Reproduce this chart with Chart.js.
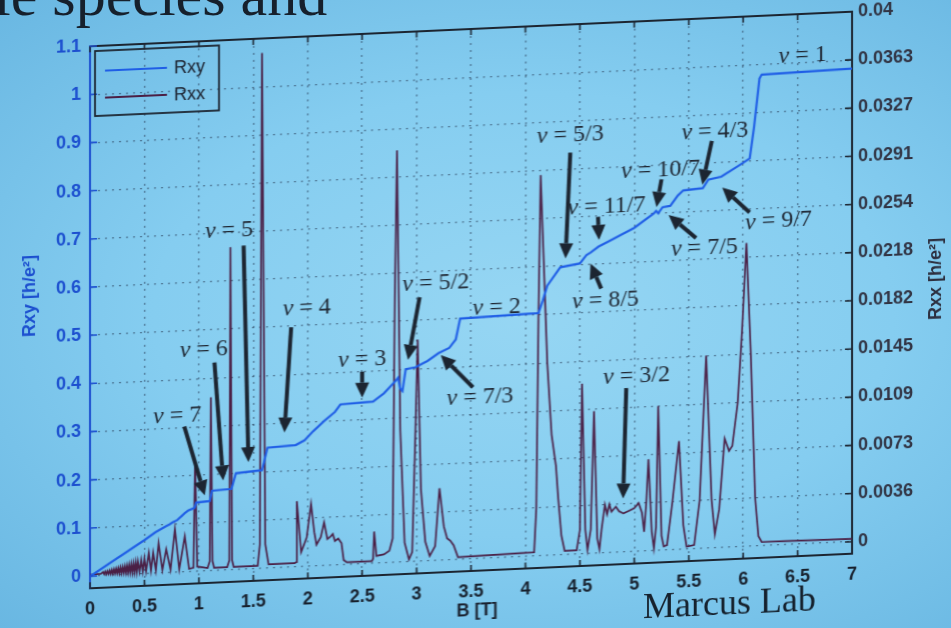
<!DOCTYPE html>
<html>
<head>
<meta charset="utf-8">
<title>Rxy / Rxx vs B</title>
<script src="https://cdn.jsdelivr.net/npm/chart.js@4.4.0/dist/chart.umd.min.js"></script>
<style>
  html, body { margin: 0; padding: 0; width: 951px; height: 628px; overflow: hidden; }
  body {
    position: relative;
    background: radial-gradient(ellipse at 55% 50%, #96d6f3 0%, #85cdf0 50%, #69b7e2 100%);
    font-family: "Liberation Serif", serif;
  }
  #slideTitle { position: absolute; left: -6px; top: -35px; font-size: 60px; line-height: 1; color: #16202c; white-space: nowrap; }
  #wrap { position: absolute; left: 0; top: 0; width: 951px; height: 628px; transform-origin: 471px 300px; transform: skewY(-2.6deg); }
  #qhe { position: absolute; left: 0; top: 0; }
  #lab { position: absolute; left: 643px; top: 596px; font-size: 36px; line-height: 1; color: #15212d; white-space: nowrap; }
</style>
</head>
<body>
<div id="slideTitle">le species and</div>
<div id="wrap">
  <canvas id="qhe" width="951" height="628"></canvas>
  <div id="lab">Marcus Lab</div>
</div>
<script>
// ticks
const xTicks = [0, 0.5, 1, 1.5, 2, 2.5, 3, 3.5, 4, 4.5, 5, 5.5, 6, 6.5, 7];
const rxyTicks = [0, 0.1, 0.2, 0.3, 0.4, 0.5, 0.6, 0.7, 0.8, 0.9, 1, 1.1];
const rxxTicks = [0, 0.003636, 0.007273, 0.010909, 0.014545, 0.018182, 0.021818, 0.025455, 0.029091, 0.032727, 0.036364, 0.04];
const rxxTickLabels = ['0', '0.0036', '0.0073', '0.0109', '0.0145', '0.0182', '0.0218', '0.0254', '0.0291', '0.0327', '0.0363', '0.04'];

// Rxy [h/e^2] vs B [T]
const rxyB = [0, 0.5, 0.6, 0.7, 0.73, 0.76, 0.8, 0.84, 0.87, 0.9,
  0.96, 0.975, 1.1, 1.12, 1.3, 1.34, 1.58, 1.63, 1.89, 1.97,
  2.05, 2.15, 2.25, 2.3, 2.6, 2.7, 2.8, 2.83, 2.85, 2.87,
  2.9, 2.99, 3.1, 3.2, 3.3, 3.36, 3.4, 4.12, 4.16, 4.2,
  4.32, 4.5, 4.56, 4.6, 4.67, 4.8, 5.0, 5.18, 5.2, 5.22,
  5.26, 5.33, 5.4, 5.45, 5.63, 5.68, 5.8, 5.95, 6.06, 6.1,
  6.15, 6.17, 7];
const rxyVal = [0, 0.07, 0.085, 0.097, 0.1, 0.104, 0.108, 0.116, 0.122, 0.127,
  0.132, 0.143, 0.145, 0.166, 0.168, 0.2, 0.204, 0.25, 0.253, 0.262,
  0.28, 0.3, 0.318, 0.333, 0.336, 0.352, 0.375, 0.383, 0.36, 0.355,
  0.4, 0.403, 0.415, 0.43, 0.44, 0.457, 0.5, 0.504, 0.53, 0.56,
  0.597, 0.603, 0.62, 0.625, 0.636, 0.65, 0.672, 0.7, 0.705, 0.7,
  0.712, 0.714, 0.735, 0.745, 0.748, 0.765, 0.77, 0.79, 0.805, 0.87,
  0.97, 0.978, 0.982];

// Rxx [h/e^2] vs B [T]
const rxxB = [0, 0.1, 0.12, 0.13, 0.14, 0.15, 0.16, 0.17, 0.18, 0.19,
  0.2, 0.21, 0.22, 0.23, 0.24, 0.25, 0.26, 0.27, 0.28, 0.29,
  0.3, 0.31, 0.32, 0.33, 0.34, 0.35, 0.36, 0.37, 0.38, 0.39,
  0.4, 0.41, 0.42, 0.43, 0.44, 0.455, 0.47, 0.485, 0.5, 0.515,
  0.54, 0.56, 0.58, 0.605,
  0.63, 0.665, 0.7, 0.74, 0.78, 0.82, 0.87, 0.91, 0.95, 0.965,
  0.985, 1.08, 1.1, 1.11, 1.125, 1.14, 1.26, 1.28, 1.29, 1.305,
  1.32, 1.54, 1.56, 1.58, 1.61, 1.64, 1.88, 1.895, 1.9, 1.94,
  1.99, 2.03, 2.06, 2.08, 2.12, 2.15, 2.18, 2.21, 2.23, 2.25,
  2.28, 2.31, 2.33, 2.36, 2.59, 2.6, 2.61, 2.63, 2.7, 2.75,
  2.78, 2.8, 2.82, 2.85, 2.89, 2.93, 2.96, 2.99, 3.01, 3.04,
  3.08, 3.12, 3.17, 3.21, 3.25, 3.28, 3.31, 3.34, 3.38, 4.08,
  4.1, 4.12, 4.14, 4.17, 4.2, 4.24, 4.28, 4.3, 4.33, 4.36,
  4.47, 4.5, 4.52, 4.55, 4.57, 4.6, 4.63, 4.66, 4.68, 4.7,
  4.73, 4.75, 4.77, 4.79, 4.83, 4.86, 4.9, 4.95, 5.0, 5.04,
  5.07, 5.09, 5.11, 5.13, 5.16, 5.18, 5.2, 5.22, 5.25, 5.27,
  5.3, 5.35, 5.41, 5.45, 5.48, 5.55, 5.6, 5.66, 5.71, 5.74,
  5.78, 5.83, 5.87, 5.9, 5.95, 5.99, 6.03, 6.07, 6.11, 6.14,
  6.17, 7];
const rxxVal = [0.00011, 0.00015, 0.00027, 0.00011, 0.0003, 0.00011, 0.00033, 0.00011, 0.00036, 0.00011,
  0.0004, 0.00011, 0.00044, 0.00013, 0.00047, 0.00013, 0.00051, 0.00013, 0.00055, 0.00013,
  0.00058, 0.00015, 0.00062, 0.00015, 0.00067, 0.00015, 0.00071, 0.00015, 0.00076, 0.00015,
  0.0008, 0.00018, 0.00087, 0.00018, 0.00095, 0.00018, 0.00105, 0.00018, 0.00116, 0.00018,
  0.00156, 0.00022, 0.00156, 0.00022,
  0.00225, 0.00022, 0.00178, 0.00022, 0.00327, 0.00022, 0.00269, 0.00022, 0.00029, 0.00836,
  0.00036, 0.00022, 0.00073, 0.01309, 0.00073, 0.00022, 0.00022, 0.00073, 0.02436, 0.00073,
  0.00022, 0.00022, 0.00182, 0.03891, 0.00182, 0.00029, 0.00029, 0.00036, 0.00495, 0.00109,
  0.00218, 0.00469, 0.00255, 0.0016, 0.00218, 0.00327, 0.002, 0.00218, 0.00236, 0.00182,
  0.002, 0.00164, 0.00036, 0.00018, 0.00018, 0.00036, 0.0024, 0.00055, 0.00065, 0.00091,
  0.00182, 0.02, 0.03109, 0.01, 0.00145, 0.00018, 0.00073, 0.01, 0.01673, 0.00545,
  0.00145, 0.00036, 0.00109, 0.00545, 0.00255, 0.00164, 0.00145, 0.00109, 0.00018, 0.00029,
  0.00364, 0.01818, 0.02873, 0.02182, 0.01455, 0.00909, 0.00673, 0.00436, 0.00145, 0.00029,
  0.00029, 0.00182, 0.01284, 0.00182, 0.00029, 0.00182, 0.01073, 0.00109, 0.00029, 0.00182,
  0.00364, 0.00291, 0.00364, 0.00309, 0.00345, 0.00309, 0.00291, 0.00309, 0.00327, 0.00364,
  0.00291, 0.00145, 0.00364, 0.00691, 0.00145, 0.00018, 0.00182, 0.01091, 0.00109, 0.00029,
  0.00036, 0.00364, 0.00818, 0.00182, 0.00018, 0.00029, 0.00364, 0.01455, 0.00364, 0.00102,
  0.00291, 0.00822, 0.00727, 0.00764, 0.01091, 0.01636, 0.02291, 0.01455, 0.00364, 0.00073,
  0.00029, 0.00022];

// filling-factor notes: label / arrow tail / arrow tip in (B, Rxy) coordinates
const nuNotes = [
  { nu: '7',    label: [0.80, 0.325],  tail: [0.866, 0.302], tip: [1.054, 0.157] },
  { nu: '6',    label: [1.045, 0.46],  tail: [1.143, 0.432], tip: [1.223, 0.186] },
  { nu: '5',    label: [1.277, 0.704], tail: [1.411, 0.672], tip: [1.455, 0.222] },
  { nu: '4',    label: [1.991, 0.536], tail: [1.848, 0.498], tip: [1.786, 0.28] },
  { nu: '3',    label: [2.5, 0.423],   tail: [2.5, 0.399],   tip: [2.5, 0.345] },
  { nu: '5/2',  label: [3.176, 0.575], tail: [3.028, 0.548], tip: [2.921, 0.419] },
  { nu: '7/3',  label: [3.582, 0.335], tail: [3.518, 0.356], tip: [3.222, 0.426] },
  { nu: '2',    label: [3.736, 0.52] },
  { nu: '5/3',  label: [4.412, 0.871], tail: [4.412, 0.834], tip: [4.368, 0.615] },
  { nu: '8/5',  label: [4.735, 0.523], tail: [4.696, 0.549], tip: [4.598, 0.602] },
  { nu: '11/7', label: [4.745, 0.718], tail: [4.667, 0.698], tip: [4.676, 0.65] },
  { nu: '10/7', label: [5.241, 0.79],  tail: [5.25, 0.77],   tip: [5.204, 0.713] },
  { nu: '7/5',  label: [5.644, 0.623], tail: [5.567, 0.645], tip: [5.315, 0.695] },
  { nu: '4/3',  label: [5.74, 0.863],  tail: [5.712, 0.845], tip: [5.625, 0.755] },
  { nu: '9/7',  label: [6.324, 0.672], tail: [6.059, 0.693], tip: [5.808, 0.747] },
  { nu: '1',    label: [6.546, 1.013] },
  { nu: '3/2',  label: [5.02, 0.364],  tail: [4.926, 0.34],  tip: [4.897, 0.111] }
];

const INK = '#1c2531';
const BLUE_AX = '#1c4fcf';

function drawArrow(ctx, x1, y1, x2, y2) {
  const ang = Math.atan2(y2 - y1, x2 - x1);
  const head = 15, half = 7;
  const bx = x2 - head * Math.cos(ang), by = y2 - head * Math.sin(ang);
  ctx.lineWidth = 4;
  ctx.beginPath(); ctx.moveTo(x1, y1); ctx.lineTo(bx, by); ctx.stroke();
  ctx.beginPath();
  ctx.moveTo(x2, y2);
  ctx.lineTo(bx + half * Math.sin(ang), by - half * Math.cos(ang));
  ctx.lineTo(bx - half * Math.sin(ang), by + half * Math.cos(ang));
  ctx.closePath(); ctx.fill();
}

function drawNu(ctx, frac, cx, cy) {
  const rest = ' = ' + frac;
  ctx.font = 'italic 24px "Liberation Serif"';
  const w1 = ctx.measureText('\u03bd').width;
  ctx.font = '24px "Liberation Serif"';
  const w2 = ctx.measureText(rest).width;
  const x0 = cx - (w1 + w2) / 2;
  ctx.textAlign = 'left'; ctx.textBaseline = 'middle';
  ctx.font = 'italic 24px "Liberation Serif"';
  ctx.fillText('\u03bd', x0, cy);
  ctx.font = '24px "Liberation Serif"';
  ctx.fillText(rest, x0 + w1, cy);
}

const slideDecor = {
  id: 'slideDecor',
  afterDraw(chart) {
    const { ctx, chartArea: a, scales } = chart;
    const sx = scales.x, sy = scales.y, sy2 = scales.y2;
    ctx.save();

    // top frame
    ctx.strokeStyle = INK; ctx.lineWidth = 2;
    ctx.beginPath(); ctx.moveTo(a.left, a.top); ctx.lineTo(a.right, a.top); ctx.stroke();

    // inward tick marks
    ctx.lineWidth = 1.6;
    ctx.strokeStyle = INK;
    ctx.beginPath();
    xTicks.forEach(v => {
      const px = sx.getPixelForValue(v);
      ctx.moveTo(px, a.bottom); ctx.lineTo(px, a.bottom - 6);
      ctx.moveTo(px, a.top); ctx.lineTo(px, a.top + 6);
    });
    rxxTicks.forEach(v => {
      const py = sy2.getPixelForValue(v);
      ctx.moveTo(a.right, py); ctx.lineTo(a.right - 7, py);
    });
    ctx.stroke();
    ctx.strokeStyle = BLUE_AX;
    ctx.beginPath();
    rxyTicks.forEach(v => {
      const py = sy.getPixelForValue(v);
      ctx.moveTo(a.left, py); ctx.lineTo(a.left + 7, py);
    });
    ctx.stroke();

    // legend box
    const lx = a.left + 5, ly = a.top + 5;
    ctx.strokeStyle = INK; ctx.lineWidth = 1.8;
    ctx.strokeRect(lx, ly, 124, 65);
    ctx.font = '18px "Liberation Sans"';
    ctx.textAlign = 'left'; ctx.textBaseline = 'middle';
    chart.data.datasets.forEach((ds, i) => {
      const yy = ly + 20 + i * 27;
      ctx.strokeStyle = ds.borderColor; ctx.lineWidth = 1.8;
      ctx.beginPath(); ctx.moveTo(lx + 10, yy); ctx.lineTo(lx + 72, yy); ctx.stroke();
      ctx.fillStyle = '#1a1f2c';
      ctx.fillText(ds.label, lx + 79, yy + 1);
    });

    // axis titles
    ctx.font = 'bold 18px "Liberation Sans"';
    ctx.textAlign = 'center'; ctx.textBaseline = 'middle';
    ctx.fillStyle = '#1a2230';
    ctx.fillText('B [T]', (a.left + a.right) / 2 + 6, 611);
    ctx.save();
    ctx.translate(30, 276); ctx.rotate(-Math.PI / 2);
    ctx.fillStyle = BLUE_AX;
    ctx.fillText('Rxy [h/e\u00b2]', 0, 0);
    ctx.restore();
    ctx.save();
    ctx.translate(936, (a.top + a.bottom) / 2); ctx.rotate(-Math.PI / 2);
    ctx.fillStyle = '#2c2f3f';
    ctx.fillText('Rxx [h/e\u00b2]', 0, 0);
    ctx.restore();

    // filling-factor arrows and labels
    ctx.strokeStyle = INK; ctx.fillStyle = INK;
    nuNotes.forEach(n => {
      if (n.tip) {
        drawArrow(ctx,
          sx.getPixelForValue(n.tail[0]), sy.getPixelForValue(n.tail[1]),
          sx.getPixelForValue(n.tip[0]), sy.getPixelForValue(n.tip[1]));
      }
    });
    ctx.fillStyle = '#1e2632';
    nuNotes.forEach(n => {
      drawNu(ctx, n.nu, sx.getPixelForValue(n.label[0]), sy.getPixelForValue(n.label[1]));
    });
    ctx.restore();
  }
};

Chart.defaults.font.family = '"Liberation Sans", Arial, sans-serif';

const gridStyle = { color: 'rgba(40,62,88,0.62)', lineWidth: 1.3, drawTicks: false };
const tickFont = { size: 18, weight: 'bold' };

new Chart(document.getElementById('qhe').getContext('2d'), {
  type: 'line',
  data: {
    datasets: [
      {
        label: 'Rxy',
        data: rxyB.map((b, i) => ({ x: b, y: rxyVal[i] })),
        yAxisID: 'y',
        borderColor: '#1f5ee6',
        borderWidth: 2.2,
        pointRadius: 0,
        tension: 0
      },
      {
        label: 'Rxx',
        data: rxxB.map((b, i) => ({ x: b, y: rxxVal[i] })),
        yAxisID: 'y2',
        borderColor: '#4a1f45',
        borderWidth: 1.7,
        pointRadius: 0,
        tension: 0
      }
    ]
  },
  options: {
    responsive: false,
    animation: false,
    events: [],
    layout: { padding: { top: 29, left: 0, right: 0, bottom: 0 } },
    plugins: { legend: { display: false }, tooltip: { enabled: false } },
    scales: {
      x: {
        type: 'linear', min: 0, max: 7,
        afterBuildTicks: s => { s.ticks = xTicks.map(v => ({ value: v })); },
        afterFit: s => { s.height = 57; },
        grid: gridStyle,
        border: { color: INK, width: 2, dash: [2, 5] },
        ticks: { color: '#17202d', font: tickFont, padding: 10, maxRotation: 0, autoSkip: false, callback: v => String(v) }
      },
      y: {
        position: 'left', min: -0.025, max: 1.1,
        afterBuildTicks: s => { s.ticks = rxyTicks.map(v => ({ value: v })); },
        afterFit: s => { s.width = 90; },
        grid: gridStyle,
        border: { color: BLUE_AX, width: 2, dash: [2, 5] },
        ticks: { color: BLUE_AX, font: tickFont, padding: 9, autoSkip: false, callback: v => String(v) }
      },
      y2: {
        position: 'right', min: -0.000909, max: 0.04,
        afterBuildTicks: s => { s.ticks = rxxTicks.map(v => ({ value: v })); },
        afterFit: s => { s.width = 99; },
        grid: { display: false, drawTicks: false },
        border: { color: INK, width: 2 },
        ticks: { color: '#313444', font: tickFont, padding: 6, autoSkip: false, callback: (v, i) => rxxTickLabels[i] }
      }
    }
  },
  plugins: [slideDecor]
});
</script>
</body>
</html>
